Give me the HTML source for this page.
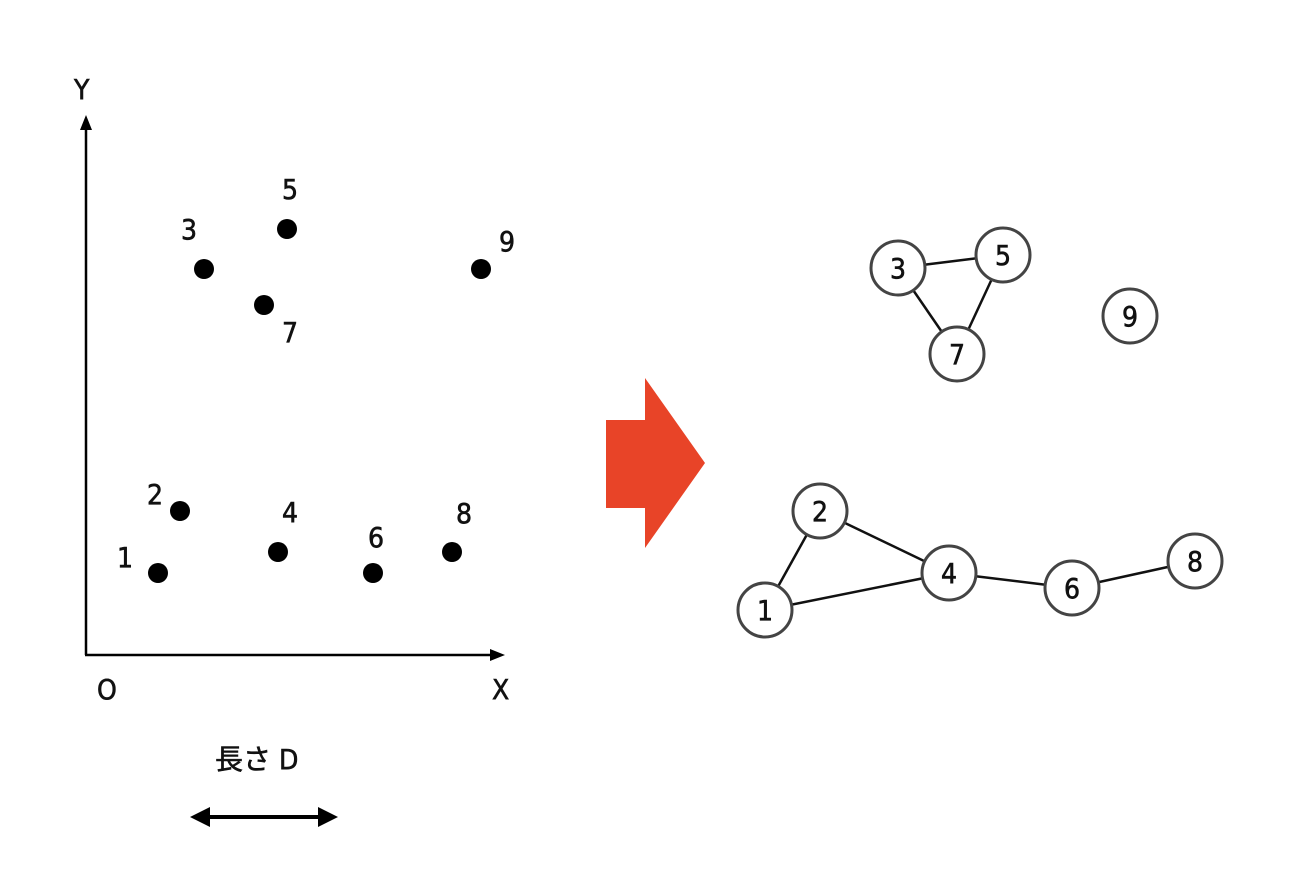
<!DOCTYPE html>
<html><head><meta charset="utf-8"><style>body{margin:0;background:#fff}text{font-family:"DejaVu Sans Condensed","DejaVu Sans","Noto Sans CJK JP",sans-serif;font-size:28px;fill:#111;stroke:#111;stroke-width:0.6}</style></head><body>
<svg width="1300" height="874" xmlns="http://www.w3.org/2000/svg">
<line x1="86" y1="655" x2="86" y2="128" stroke="#000" stroke-width="2.5"/>
<polygon points="86,115 80,130 92,130" fill="#000"/>
<line x1="85" y1="655" x2="492" y2="655" stroke="#000" stroke-width="2.5"/>
<polygon points="505,655 490,649 490,661" fill="#000"/>
<text x="74" y="99">Y</text><text x="97" y="699">O</text><text x="492" y="699">X</text>
<g fill="#000">
<circle cx="204" cy="269" r="10"/><circle cx="287" cy="229" r="10"/><circle cx="264" cy="305" r="10"/><circle cx="481" cy="269" r="10"/>
<circle cx="180" cy="511" r="10"/><circle cx="158" cy="573" r="10"/><circle cx="278" cy="552" r="10"/><circle cx="373" cy="573" r="10"/><circle cx="452" cy="552" r="10"/>
</g>
<text x="181" y="239">3</text><text x="282" y="199">5</text><text x="282" y="342">7</text><text x="499" y="251">9</text>
<text x="147" y="504">2</text><text x="117" y="567">1</text><text x="282" y="522">4</text><text x="368" y="547">6</text><text x="456" y="523">8</text>
<text x="215" y="769">長さ D</text>
<line x1="205" y1="817" x2="323" y2="817" stroke="#000" stroke-width="4"/>
<polygon points="190,817 210,807 210,827" fill="#000"/><polygon points="338,817 318,807 318,827" fill="#000"/>
<polygon points="606,420 645,420 645,378 705,463 645,548 645,508 606,508" fill="#e84428"/>
<g stroke="#111" stroke-width="2.5">
<line x1="898" y1="268" x2="1003" y2="255"/><line x1="898" y1="268" x2="957" y2="354"/><line x1="1003" y1="255" x2="957" y2="354"/>
<line x1="820" y1="511" x2="765" y2="610"/><line x1="820" y1="511" x2="949" y2="573"/><line x1="765" y1="610" x2="949" y2="573"/>
<line x1="949" y1="573" x2="1072" y2="588"/><line x1="1072" y1="588" x2="1195" y2="561"/>
</g>
<g fill="#fff" stroke="#444" stroke-width="3">
<circle cx="898" cy="268" r="27"/><circle cx="1003" cy="255" r="27"/><circle cx="957" cy="354" r="27"/><circle cx="1130" cy="316" r="27"/>
<circle cx="820" cy="511" r="27"/><circle cx="765" cy="610" r="27"/><circle cx="949" cy="573" r="27"/><circle cx="1072" cy="588" r="27"/><circle cx="1195" cy="561" r="27"/>
</g>
<g text-anchor="middle">
<text x="898" y="278">3</text><text x="1003" y="265">5</text><text x="957" y="364">7</text><text x="1130" y="326">9</text>
<text x="820" y="521">2</text><text x="765" y="620">1</text><text x="949" y="583">4</text><text x="1072" y="598">6</text><text x="1195" y="571">8</text>
</g>
</svg></body></html>
